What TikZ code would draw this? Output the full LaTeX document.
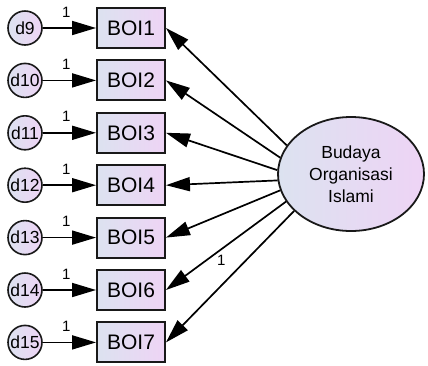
\documentclass[tikz,border=0pt]{standalone}
\usepackage{fontspec}
\setmainfont{Liberation Sans}
\usetikzlibrary{arrows.meta,shapes.geometric,shadings}
\definecolor{shadeL}{RGB}{220,226,240}
\definecolor{shadeR}{RGB}{238,212,245}
\begin{document}
\begin{tikzpicture}[x=1pt,y=-1pt,
  obs/.style={rectangle, draw=black!90, line width=1.9pt, minimum width=68pt,
    minimum height=40pt, inner sep=0pt, left color=shadeL, right color=shadeR,
    font=\fontsize{21}{24}\selectfont},
  err/.style={circle, draw=black!90, line width=1.6pt, minimum size=34pt,
    inner sep=0pt, left color=shadeL, right color=shadeR,
    font=\fontsize{17.5}{18}\selectfont},
  lat/.style={ellipse, draw=black!90, line width=1.8pt, minimum width=146pt,
    minimum height=114pt, inner sep=0pt, align=center,
    left color=shadeL, right color=shadeR,
    font=\fontsize{17.5}{22}\selectfont},
  reg/.style={line width=1.7pt, -{Triangle[length=24pt,width=14pt]}},
  one/.style={font=\fontsize{15}{16}\selectfont, inner sep=1pt}
]
\useasboundingbox (0,0) rectangle (428,365);

% observed indicators with their error terms
\foreach \i [evaluate=\i as \yy using 28+52.4*(\i-1),
             evaluate=\i as \dn using int(\i+8)] in {1,...,7} {
  \node[obs] (b\i) at (131,\yy) {BOI\i};
  \node[err] (e\i) at (25,\yy) {d\dn};
  \draw[reg] (e\i) -- node[one, pos=0.44, above=9pt] {1} (b\i);
}

% latent construct
\node[lat] (L) at (351,174) {Budaya\\Organisasi\\Islami};

% loadings
\draw[reg] (L.156) -- (b1.east);
\draw[reg] (L.167) -- (b2.east);
\draw[reg] (L.177) -- (b3.east);
\draw[reg] (L.185) -- (b4.east);
\draw[reg] (L.193.5) -- (b5.east);
\draw[reg] (L.203) -- node[one, pos=0.54, below=4pt] {1} (b6.east);
\draw[reg] (L.213) -- (b7.east);
\end{tikzpicture}
\end{document}
